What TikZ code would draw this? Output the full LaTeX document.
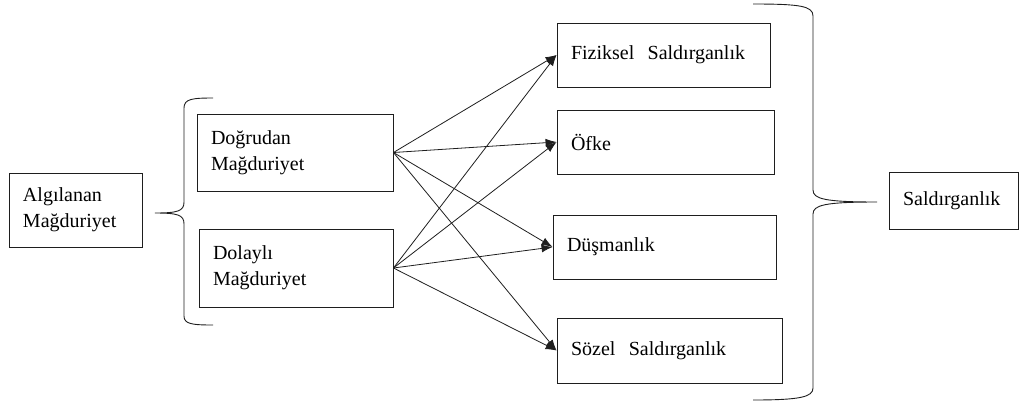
\documentclass[tikz,border=0pt]{standalone}
\usepackage{fontspec}
\setmainfont{Liberation Serif}
\usepackage{tikz}
\usetikzlibrary{arrows.meta,positioning}
\definecolor{inkline}{RGB}{30,30,30}
\tikzset{
  box/.style={draw=inkline, line width=0.9pt, inner xsep=14pt, inner ysep=0pt, align=left,
    font=\fontsize{20}{26}\selectfont},
  arr/.style={draw=inkline, line width=0.8pt, -{Latex[length=11pt,width=8pt]}},
  bracepath/.style={draw=inkline, line width=0.9pt}
}

\begin{document}
\begin{tikzpicture}[x=1pt,y=-1pt]
  \useasboundingbox (0,0) rectangle (1019,405);
  \node[box, minimum height=74pt, text width=105pt] (alg) at (75.5,210) {Algılanan\\Mağduriyet};
  \node[box, minimum height=77pt, text width=168pt] (dog) at (295,152.5) {Doğrudan\\Mağduriyet};
  \node[box, minimum height=78pt, text width=166pt] (dol) at (296,268) {Dolaylı\\Mağduriyet};
  \node[box, minimum height=64pt, text width=185pt] (fiz) at (663.5,55) {Fiziksel~ Saldırganlık};
  \node[box, minimum height=64pt, text width=189pt] (ofk) at (665.5,142) {Öfke};
  \node[box, minimum height=64pt, text width=195pt] (dus) at (664.5,247) {Düşmanlık};
  \node[box, minimum height=65pt, text width=197pt] (soz) at (669.5,350.5) {Sözel~ Saldırganlık};
  \node[box, minimum height=57pt, text width=101pt] (sal) at (953.5,200.5) {Saldırganlık};
  % braces
  \draw[bracepath] (213,98) .. controls (192,98) and (184,99) .. (184,108) -- (184,202)
    .. controls (184,211) and (178,213) .. (155,213)
    .. controls (178,213) and (184,215) .. (184,224) -- (184,316)
    .. controls (184,324) and (192,325) .. (213,325);
  \draw[bracepath] (753,4) .. controls (800,4) and (813,6) .. (813,16) -- (813,190)
    .. controls (813,199) and (825,202) .. (877,202)
    .. controls (825,202) and (813,205) .. (813,214) -- (813,388)
    .. controls (813,397) and (800,400) .. (753,400);
  % arrows
  \foreach \src in {dog,dol}
    \foreach \dst in {fiz,ofk,dus,soz}
      \draw[arr] (\src.east) -- (\dst.west);
\end{tikzpicture}
\end{document}
